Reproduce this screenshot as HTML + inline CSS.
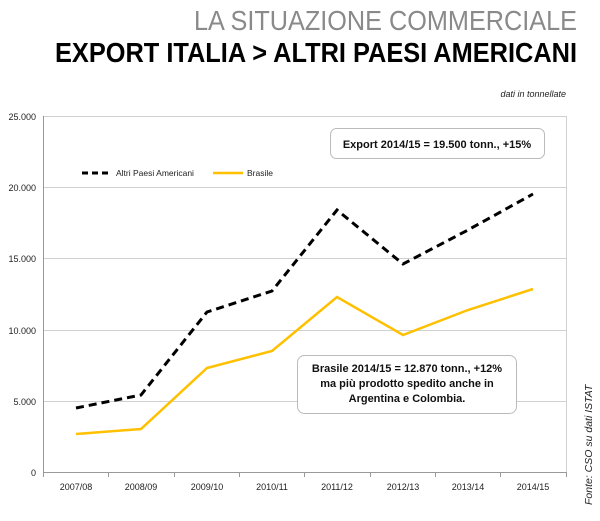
<!DOCTYPE html><html><head><style>body{margin:0;background:#fff;width:600px;height:516px;overflow:hidden;font-family:"Liberation Sans",sans-serif}</style></head><body>
<svg width="600" height="516" xmlns="http://www.w3.org/2000/svg" font-family="Liberation Sans, sans-serif">
<text x="577" y="30" text-anchor="end" font-size="28" fill="#8a8a8a" textLength="383" lengthAdjust="spacingAndGlyphs">LA SITUAZIONE COMMERCIALE</text>
<text x="577" y="62" text-anchor="end" font-size="28" font-weight="bold" fill="#000" textLength="522" lengthAdjust="spacingAndGlyphs">EXPORT ITALIA &gt; ALTRI PAESI AMERICANI</text>
<text x="566" y="97" text-anchor="end" font-size="9" font-style="italic" fill="#222">dati in tonnellate</text>
<g stroke="#d0d0d0" stroke-width="1">
<line x1="43" y1="116.5" x2="566" y2="116.5"/><line x1="43" y1="187.5" x2="566" y2="187.5"/><line x1="43" y1="258.5" x2="566" y2="258.5"/><line x1="43" y1="330.5" x2="566" y2="330.5"/><line x1="43" y1="401.5" x2="566" y2="401.5"/>
<line x1="566.5" y1="116" x2="566.5" y2="472"/>
</g>
<g stroke="#999" stroke-width="1"><line x1="43" y1="472.5" x2="566" y2="472.5"/><line x1="43.5" y1="116" x2="43.5" y2="477"/>
<line x1="108.5" y1="472" x2="108.5" y2="477"/><line x1="174.5" y1="472" x2="174.5" y2="477"/><line x1="239.5" y1="472" x2="239.5" y2="477"/><line x1="304.5" y1="472" x2="304.5" y2="477"/><line x1="370.5" y1="472" x2="370.5" y2="477"/><line x1="435.5" y1="472" x2="435.5" y2="477"/><line x1="500.5" y1="472" x2="500.5" y2="477"/><line x1="566.5" y1="472" x2="566.5" y2="477"/></g>
<g font-size="9" fill="#222" text-anchor="end"><text x="36" y="120">25.000</text><text x="36" y="191">20.000</text><text x="36" y="262">15.000</text><text x="36" y="334">10.000</text><text x="36" y="405">5.000</text><text x="36" y="476">0</text></g>
<g font-size="9" fill="#222" text-anchor="middle"><text x="76" y="490">2007/08</text><text x="141" y="490">2008/09</text><text x="207" y="490">2009/10</text><text x="272" y="490">2010/11</text><text x="337" y="490">2011/12</text><text x="403" y="490">2012/13</text><text x="468" y="490">2013/14</text><text x="533" y="490">2014/15</text></g>
<polyline fill="none" stroke="#000" stroke-width="3" stroke-dasharray="8,5" points="76,408 141,395 207,312 272,291 337,210 403,264 468,230 533,194"/>
<polyline fill="none" stroke="#ffc000" stroke-width="2.5" points="76,434 141,429 207,368 272,351 337,297 403,335 468,310 533,289"/>
<line x1="82" y1="173" x2="112" y2="173" stroke="#000" stroke-width="3" stroke-dasharray="6,4"/>
<text x="116" y="176" font-size="8.5" fill="#222">Altri Paesi Americani</text>
<line x1="213" y1="173" x2="243" y2="173" stroke="#ffc000" stroke-width="2.5"/>
<text x="247" y="176" font-size="8.5" fill="#222">Brasile</text>
<rect x="330.5" y="128.5" width="214" height="30" rx="6" fill="#fff" stroke="#bbb"/>
<text x="437" y="148" text-anchor="middle" font-size="11" font-weight="bold" fill="#111">Export 2014/15 = 19.500 tonn., +15%</text>
<rect x="297.5" y="355.5" width="219" height="58" rx="7" fill="#fff" stroke="#bbb"/>
<g font-size="11" font-weight="bold" fill="#111" text-anchor="middle"><text x="407" y="372">Brasile 2014/15 = 12.870 tonn., +12%</text><text x="407" y="387">ma più prodotto spedito anche in</text><text x="407" y="402">Argentina e Colombia.</text></g>
<text transform="translate(592,505) rotate(-90)" font-size="10.5" font-style="italic" fill="#222">Fonte: CSO su dati ISTAT</text>
</svg></body></html>
